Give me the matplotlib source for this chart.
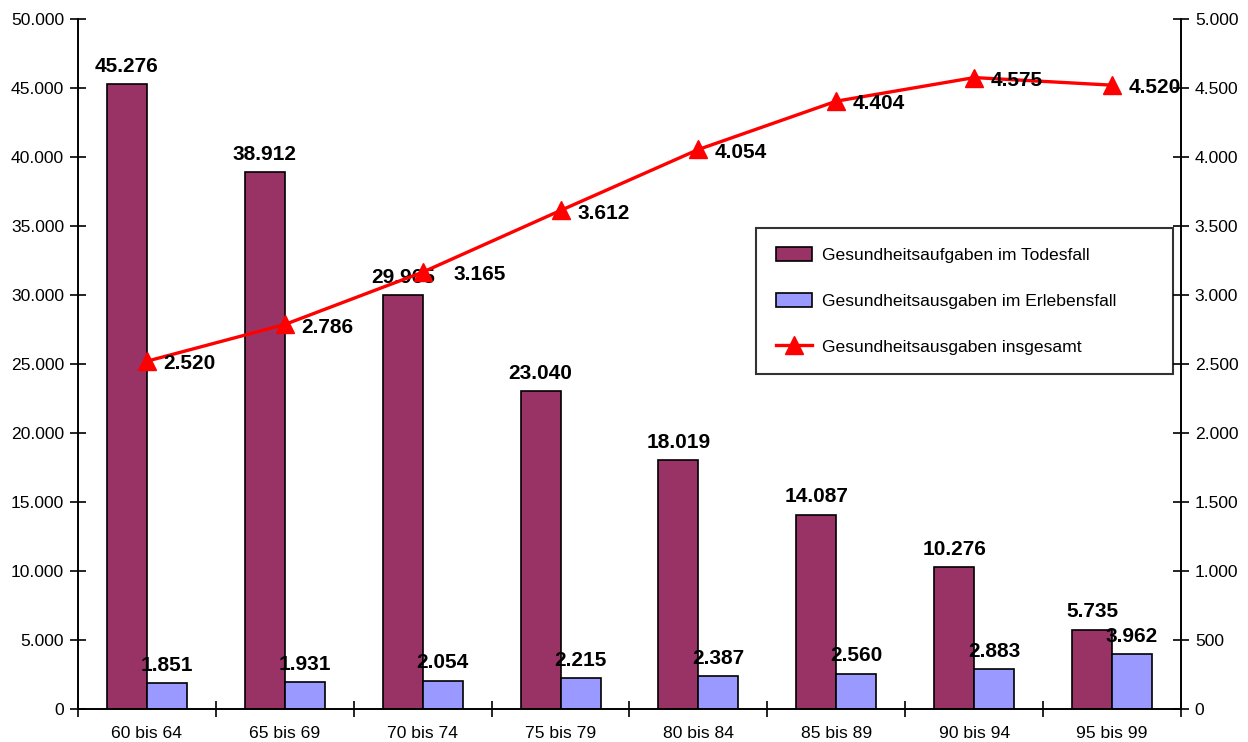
import matplotlib.pyplot as plt
import numpy as np
from matplotlib.ticker import FuncFormatter, MultipleLocator

plt.rcParams['font.family'] = ['Liberation Sans', 'DejaVu Sans']

kategorien = ['60 bis 64', '65 bis 69', '70 bis 74', '75 bis 79',
              '80 bis 84', '85 bis 89', '90 bis 94', '95 bis 99']
todesfall = [45276, 38912, 29965, 23040, 18019, 14087, 10276, 5735]
erlebensfall = [1851, 1931, 2054, 2215, 2387, 2560, 2883, 3962]
insgesamt = [2520, 2786, 3165, 3612, 4054, 4404, 4575, 4520]

def punkt(v, pos=None):
    return '{:,.0f}'.format(v).replace(',', '.')

fig = plt.figure(figsize=(12.48, 7.42), dpi=100)
ax = fig.add_axes([0.0625, 0.0445, 0.8838, 0.9300])
ax2 = ax.twinx()

x = np.arange(len(kategorien))
w = 0.29

b1 = ax.bar(x - w / 2, todesfall, w, color='#993366', edgecolor='black', linewidth=1.2,
            label='Gesundheitsaufgaben im Todesfall')
b2 = ax.bar(x + w / 2, erlebensfall, w, color='#9999FF', edgecolor='black', linewidth=1.2,
            label='Gesundheitsausgaben im Erlebensfall')
l1, = ax2.plot(x, insgesamt, color='#FF0000', linewidth=2.4, marker='^', markersize=13,
               label='Gesundheitsausgaben insgesamt')

# Beschriftungen
for xi, v in zip(x, todesfall):
    ax.annotate(punkt(v), (xi - w / 2, v), xytext=(0, 6), textcoords='offset points',
                ha='center', va='bottom', fontsize=15, fontweight='bold')
for xi, v in zip(x, erlebensfall):
    ax.annotate(punkt(v), (xi + w / 2, v), xytext=(0, 6), textcoords='offset points',
                ha='center', va='bottom', fontsize=15, fontweight='bold')
for i, (xi, v) in enumerate(zip(x, insgesamt)):
    dx = 22 if i == 2 else 12  # 3.165 steht im Original etwas weiter rechts
    ax2.annotate(punkt(v), (xi, v), xytext=(dx, -2), textcoords='offset points',
                 ha='left', va='center', fontsize=15, fontweight='bold')

ax.set_xlim(-0.5, len(kategorien) - 0.5)
ax.set_ylim(0, 50000)
ax2.set_ylim(0, 5000)
ax.yaxis.set_major_locator(MultipleLocator(5000))
ax2.yaxis.set_major_locator(MultipleLocator(500))
ax.yaxis.set_major_formatter(FuncFormatter(punkt))
ax2.yaxis.set_major_formatter(FuncFormatter(punkt))

ax.set_xticks(x)
ax.set_xticklabels(kategorien)
ax.set_xticks(np.arange(len(kategorien) + 1) - 0.5, minor=True)
ax.tick_params(axis='x', which='major', length=0, pad=12, labelsize=12.6)
ax.tick_params(axis='x', which='minor', direction='inout', length=12, width=1.2)
ax.tick_params(axis='y', direction='inout', length=12, width=1.2, labelsize=12.6, pad=4)
ax2.tick_params(axis='y', direction='inout', length=12, width=1.2, labelsize=12.6, pad=4)

for a in (ax, ax2):
    a.spines['top'].set_visible(False)
    for s in ('left', 'right', 'bottom'):
        a.spines[s].set_linewidth(1.2)

leg = ax2.legend(handles=[b1, b2, l1], loc='upper left',
                 bbox_to_anchor=(0.615, 0.483, 0.378, 0.214), mode='expand',
                 fontsize=12.6, frameon=True, fancybox=False, edgecolor='black',
                 labelspacing=1.72, borderpad=1.1, handlelength=2.1, handleheight=0.8,
                 handletextpad=0.55, borderaxespad=0)
leg.get_frame().set_linewidth(1.5)
leg.set_zorder(5)

fig.savefig('out.png', dpi=100)
